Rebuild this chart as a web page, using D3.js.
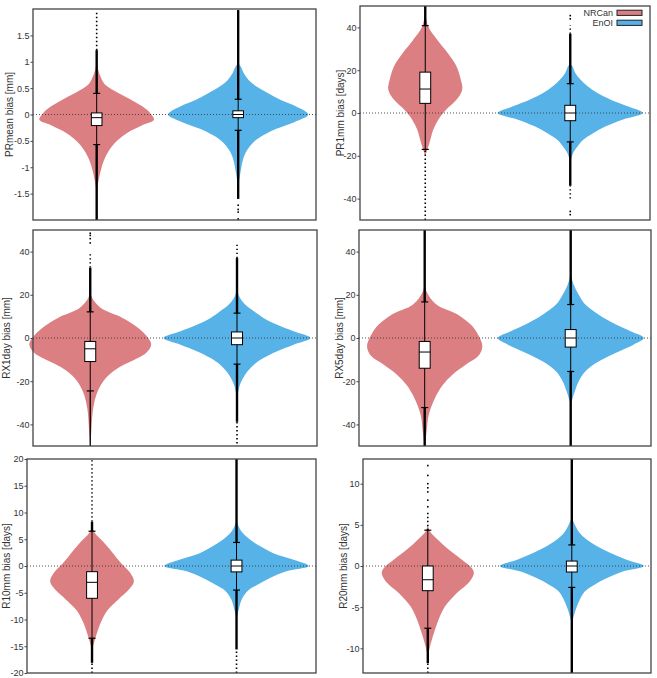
<!DOCTYPE html>
<meta charset="utf-8">
<script src="https://cdn.jsdelivr.net/npm/d3@7"></script>
<style>
  body { margin: 0; background: #fff; }
  svg { font-family: "Liberation Sans", Arial, sans-serif; }
  .tick text { fill: #333; font-size: 9px; }
</style>
<body>
<script>

var W = 657, H = 678

// --- data ---
var series = ["NRCan", "EnOI"]
var colors = ["#dc7f82", "#57b2e8"]

var labels = ["PRmean bias [mm]", "PR1mm bias [days]", "RX1day bias [mm]",
              "RX5day bias [mm]", "R10mm bias [days]", "R20mm bias [days]"]
var yDomains = [[-2, 2], [-50, 50], [-50, 50], [-50, 50], [-20, 20], [-13, 13]]
var yTicks = [[-1.5, -1, -0.5, 0, 0.5, 1, 1.5],
              [-40, -20, 0, 20, 40],
              [-40, -20, 0, 20, 40],
              [-40, -20, 0, 20, 40],
              [-20, -15, -10, -5, 0, 5, 10, 15, 20],
              [-10, -5, 0, 5, 10]]

// box stats per panel: [lower whisker, q1, median, q3, upper whisker]
var nrcanBox = [[-0.57, -0.21, -0.06, 0.03, 0.4],
                [-17, 4.5, 11.2, 19.1, 40.8],
                [-24.5, -10.9, -5.0, -1.6, 12.1],
                [-32.2, -14, -6.5, -1.6, 16.7],
                [-13.5, -6.04, -3.05, -1.06, 6.5],
                [-7.56, -3.0, -1.67, 0, 4.35]]
var enoiBox = [[-0.3, -0.06, 0, 0.07, 0.29],
               [-13.5, -3.6, 0, 3.6, 13.7],
               [-12.1, -3.1, 0, 2.8, 11.5],
               [-15.5, -4.2, 0, 3.9, 15.5],
               [-4.5, -1.1, 0, 1.1, 4.4],
               [-2.6, -0.73, 0, 0.6, 2.56]]

// violin profiles: [value, relative density]
var nrcanViolin = [
  [[1.0,0],[0.85,.02],[0.7,.06],[0.58,.11],[0.45,.25],[0.3,.46],[0.15,.65],[0.02,.76],[-0.1,.81],[-0.2,.65],[-0.36,.42],[-0.55,.25],[-0.8,.125],[-1.05,.06],[-1.3,.02],[-1.5,0]],
  [[48,0],[40.5,.04],[34,.17],[28,.31],[21.8,.43],[15.6,.49],[10.9,.51],[6.2,.43],[1.6,.29],[-3.1,.18],[-7.8,.11],[-12.5,.07],[-17,.03],[-20,0]],
  [[22,0],[18.6,.025],[14,.14],[9.3,.44],[4.7,.65],[0,.79],[-3.1,.83],[-7,.76],[-9.3,.65],[-14,.375],[-18.6,.21],[-24.8,.1],[-32.6,.04],[-43,.015],[-50,0]],
  [[26,0],[21.7,.023],[15.5,.16],[10.9,.45],[6.2,.63],[1.6,.73],[-3.9,.79],[-8.5,.73],[-12.4,.56],[-17,.38],[-21.7,.25],[-27.9,.14],[-35.7,.055],[-43,.027],[-50,0]],
  [[7.4,0],[6.2,.037],[4.3,.17],[2.4,.29],[0.56,.4],[-1.3,.53],[-2.9,.58],[-4.4,.51],[-6.3,.36],[-8.2,.22],[-10,.14],[-11.9,.083],[-13.8,.04],[-15.6,0]],
  [[5,0],[4.2,.03],[3.2,.14],[2,.29],[0.8,.47],[-0.24,.61],[-0.85,.64],[-1.9,.58],[-3.3,.4],[-4.9,.24],[-6.5,.15],[-8.2,.083],[-9.8,.03],[-11,0]]
]
var enoiViolin = [
  [[0.97,0],[0.9,.04],[0.78,.08],[0.65,.15],[0.53,.26],[0.4,.43],[0.27,.61],[0.15,.82],[0,.99],[-0.14,.8],[-0.27,.54],[-0.39,.36],[-0.52,.22],[-0.68,.125],[-0.87,.065],[-1.12,.03],[-1.37,0]],
  [[23,0],[21.8,.03],[18.7,.07],[15.6,.14],[12.5,.24],[9.3,.375],[6.2,.56],[3.1,.79],[0,1],[-3.1,.72],[-6.2,.49],[-9.3,.32],[-12.5,.18],[-15.6,.1],[-18.7,.04],[-23,0]],
  [[22.5,0],[18.6,.04],[15.5,.11],[12.4,.23],[9.3,.36],[6.2,.54],[3.1,.77],[0,1],[-3.1,.77],[-6.2,.54],[-9.3,.36],[-12.4,.23],[-17,.11],[-21.7,.04],[-28,0]],
  [[29.5,0],[24.8,.04],[20,.11],[15.5,.2],[10.9,.38],[6.2,.62],[3.1,.82],[0,1],[-3.1,.86],[-6.2,.66],[-10.9,.38],[-15.5,.2],[-20,.11],[-24.8,.055],[-31,0]],
  [[8.7,0],[7.4,.03],[6.2,.083],[4.9,.19],[3.7,.33],[2.4,.51],[1.2,.78],[0,1],[-1,.69],[-2.2,.47],[-3.5,.29],[-4.7,.15],[-6.3,.07],[-8.2,.03],[-10,0]],
  [[5.9,0],[4.8,.055],[4,.11],[3.2,.21],[2.4,.35],[1.6,.53],[0.77,.76],[0,1],[-0.65,.72],[-1.46,.49],[-2.3,.31],[-3.1,.18],[-4.1,.11],[-5.3,.055],[-7,0]]
]

// outlier runs: [from, to, kind]  kind: dense | line | sparse
var nrcanOut = [
  [[0.4, 1.22, "dense"], [1.22, 1.95, "sparse"], [-2, -0.57, "dense"]],
  [[40.8, 50, "dense"], [-50, -17, "sparse"]],
  [[12.1, 32.6, "dense"], [32.6, 39, "sparse"], [-50, -24.5, "line"]],
  [[16.7, 50, "dense"], [-50, -32.2, "dense"]],
  [[6.5, 8.3, "dense"], [8.3, 20, "sparse"], [-18.1, -13.5, "dense"], [-20, -18.1, "sparse"]],
  [[4.35, 6.5, "sparse"], [-11.8, -7.56, "dense"], [-13, -11.8, "sparse"]]
]
var enoiOut = [
  [[0.29, 1.98, "dense"], [-1.6, -0.3, "dense"]],
  [[13.7, 37, "dense"], [37, 41, "sparse"], [-34, -13.5, "dense"], [-40, -34, "sparse"]],
  [[11.5, 37, "dense"], [37, 44, "sparse"], [-38.8, -12.1, "dense"], [-48.8, -38.8, "sparse"]],
  [[15.5, 50, "dense"], [-50, -15.5, "dense"]],
  [[4.4, 20, "dense"], [-15.6, -4.5, "dense"], [-20, -15.6, "sparse"]],
  [[2.56, 13, "dense"], [-13, -2.6, "dense"]]
]
// isolated far points
var nrcanPts = [[], [], [44, 46, 47.5, 48.5], [], [], [7.2, 8, 9, 9.5, 10, 11, 12.2]]
var enoiPts = [[-1.72, -1.8, -1.85, -1.98], [44, 45.5, -46, -47.5], [], [], [], []]

// --- layout: [left, top, right, bottom], y-label x, x domain ---
var frames = [[33, 9, 316, 220], [360, 6, 650, 220],
              [33, 230, 317, 446], [359, 230, 651, 446],
              [27, 459, 316, 673], [363, 459, 651, 673]]
var labelX = [9.5, 340, 6, 339, 6.5, 343]
var xDomains = [[0.55, 2.55], [0.55, 2.55], [0.61, 2.545], [0.55, 2.55], [0.55, 2.55], [0.55, 2.55]]

var svg = d3.select("body").append("svg")
    .attr("width", W).attr("height", H)

labels.forEach(function(lab, p) {
  var f = frames[p]
  var x = d3.scaleLinear().domain(xDomains[p]).range([f[0], f[2]])
  var y = d3.scaleLinear().domain(yDomains[p]).range([f[3], f[1]])
  var halfUnit = x(1.5) - x(1)
  var g = svg.append("g")

  var violins = [nrcanViolin[p], enoiViolin[p]]
  var boxes = [nrcanBox[p], enoiBox[p]]
  var outs = [nrcanOut[p], enoiOut[p]]
  var pts = [nrcanPts[p], enoiPts[p]]

  // violins
  violins.forEach(function(prof, i) {
    var cx = x(i + 1)
    var area = d3.area()
        .y(function(d) { return y(d[0]) })
        .x0(function(d) { return cx - d[1] * halfUnit })
        .x1(function(d) { return cx + d[1] * halfUnit })
        .curve(d3.curveCatmullRom.alpha(0.5))
    g.append("path").attr("d", area(prof)).attr("fill", colors[i])
  })

  // zero line
  g.append("line")
      .attr("x1", f[0]).attr("x2", f[2])
      .attr("y1", y(0)).attr("y2", y(0))
      .attr("stroke", "#333").attr("stroke-opacity", 0.85)
      .attr("stroke-width", 1).attr("stroke-dasharray", "1,2")

  // outliers, whiskers, boxes
  boxes.forEach(function(b, i) {
    var cx = x(i + 1)
    outs[i].forEach(function(o) {
      var ln = g.append("line")
          .attr("x1", cx).attr("x2", cx)
          .attr("y1", y(o[0])).attr("y2", y(o[1]))
          .attr("stroke", "#000")
      if (o[2] == "dense") ln.attr("stroke-width", 2.4)
      else if (o[2] == "line") ln.attr("stroke-width", 1.3)
      else ln.attr("stroke-width", 1.6).attr("stroke-dasharray", "1.4,2.6")
    })
    g.selectAll(null).data(pts[i]).enter().append("rect")
        .attr("x", cx - 0.8).attr("width", 1.6)
        .attr("y", function(d) { return y(d) - 0.8 }).attr("height", 1.6)
        .attr("fill", "#000")

    g.append("line")
        .attr("x1", cx).attr("x2", cx)
        .attr("y1", y(b[0])).attr("y2", y(b[4]))
        .attr("stroke", "#000").attr("stroke-width", 1)
    ;[b[0], b[4]].forEach(function(v) {
      g.append("line")
          .attr("x1", cx - 3.5).attr("x2", cx + 3.5)
          .attr("y1", y(v)).attr("y2", y(v))
          .attr("stroke", "#000").attr("stroke-width", 1.2)
    })
    var bw = x(1.0375) - x(1)
    g.append("rect")
        .attr("x", cx - bw).attr("width", 2 * bw)
        .attr("y", y(b[3])).attr("height", y(b[1]) - y(b[3]))
        .attr("fill", "#fff").attr("stroke", "#000").attr("stroke-width", 1)
    g.append("line")
        .attr("x1", cx - bw).attr("x2", cx + bw)
        .attr("y1", y(b[2])).attr("y2", y(b[2]))
        .attr("stroke", "#000").attr("stroke-width", 1)
  })

  // axis + frame
  var ax = g.append("g")
      .attr("transform", "translate(" + f[0] + ",0)")
      .call(d3.axisLeft(y).tickValues(yTicks[p]).tickSize(2.5).tickPadding(1)
            .tickFormat(function(d) { return String(d) }))
  ax.select(".domain").remove()
  ax.selectAll(".tick line").attr("stroke", "#444")
  ax.selectAll(".tick text").attr("font-family", null).attr("font-size", null)

  g.append("rect")
      .attr("x", f[0]).attr("y", f[1])
      .attr("width", f[2] - f[0]).attr("height", f[3] - f[1])
      .attr("fill", "none").attr("stroke", "#444").attr("stroke-width", 1.3)

  g.append("text")
      .attr("transform", "translate(" + labelX[p] + "," + ((f[1] + f[3]) / 2) + ") rotate(-90)")
      .attr("text-anchor", "middle")
      .attr("dominant-baseline", "central")
      .attr("font-size", 10)
      .attr("fill", "#333")
      .text(lab)
})

// legend inside second panel
var leg = svg.append("g")
series.forEach(function(s, i) {
  var ly = 12.8 + i * 10
  leg.append("text")
      .attr("x", 613).attr("y", ly)
      .attr("text-anchor", "end").attr("dominant-baseline", "central")
      .attr("font-size", 9).attr("fill", "#333")
      .text(s)
  leg.append("rect")
      .attr("x", 617).attr("y", ly - 2.6)
      .attr("width", 25).attr("height", 5.2)
      .attr("fill", colors[i]).attr("stroke", "#222").attr("stroke-width", 1)
})

</script>
</body>
